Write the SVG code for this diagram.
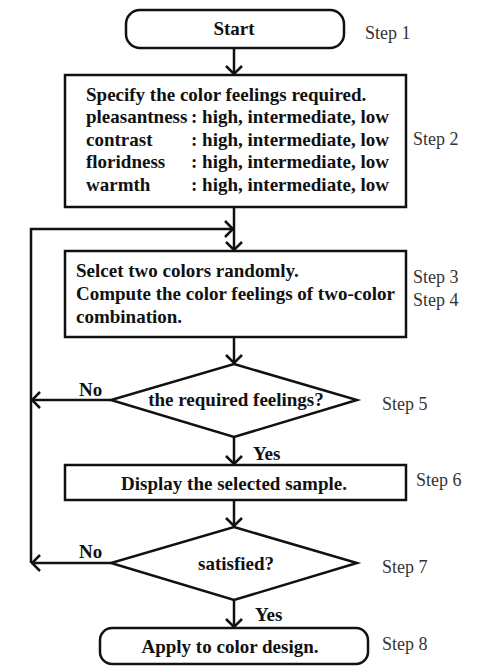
<svg xmlns="http://www.w3.org/2000/svg" width="503" height="666" viewBox="0 0 503 666">
<style>
.shape{fill:#fff;stroke:#111;stroke-width:2.5}
.t{font-family:'Liberation Serif','Times New Roman','DejaVu Serif',serif;font-weight:bold;font-size:19px;fill:#111}
.c{text-anchor:middle}
.step{font-family:'Liberation Serif','Times New Roman','DejaVu Serif',serif;font-size:18px;fill:#333}
.con{fill:none;stroke:#111;stroke-width:2.5}
</style>
<defs>
<marker id="ah" viewBox="0 0 10 18" refX="9" refY="9" markerWidth="10" markerHeight="18" markerUnits="userSpaceOnUse" orient="auto">
<path d="M1,1 L9,9 L1,17" fill="none" stroke="#111" stroke-width="2.5"/>
</marker>
</defs>
<rect width="503" height="666" fill="#fff"/>
<g id="connectors">
<path class="con" d="M234,48 V74" marker-end="url(#ah)"/>
<path class="con" d="M234,207 V250" marker-end="url(#ah)"/>
<path class="con" d="M31,563 V229 H233" marker-end="url(#ah)"/>
<path class="con" d="M234,337 V363" marker-end="url(#ah)"/>
<path class="con" d="M111,400 H32" marker-end="url(#ah)"/>
<path class="con" d="M234,437 V464" marker-end="url(#ah)"/>
<path class="con" d="M234,500 V526" marker-end="url(#ah)"/>
<path class="con" d="M111,563 H32" marker-end="url(#ah)"/>
<path class="con" d="M234,600 V627" marker-end="url(#ah)"/>
<text class="t" x="79" y="396">No</text>
<text class="t" x="79" y="558">No</text>
<text class="t" x="253" y="460">Yes</text>
<text class="t" x="255" y="621">Yes</text>
</g>
<g id="start">
<rect class="shape" x="126" y="10" width="218" height="38" rx="14"/>
<text class="t c" x="234" y="35">Start</text>
<text class="step" x="365" y="39">Step 1</text>
</g>
<g id="specify">
<rect class="shape" x="65" y="75" width="341" height="132"/>
<text class="t" x="86" y="101">Specify the color feelings required.</text>
<text class="t" x="86" y="123">pleasantness</text><text class="t" x="191" y="123">: high, intermediate, low</text>
<text class="t" x="86" y="146">contrast</text><text class="t" x="191" y="146">: high, intermediate, low</text>
<text class="t" x="86" y="168">floridness</text><text class="t" x="191" y="168">: high, intermediate, low</text>
<text class="t" x="86" y="191">warmth</text><text class="t" x="191" y="191">: high, intermediate, low</text>
<text class="step" x="413" y="145">Step 2</text>
</g>
<g id="select">
<rect class="shape" x="65" y="251" width="341" height="86"/>
<text class="t" x="76" y="277">Selcet two colors randomly.</text>
<text class="t" x="76" y="300">Compute the color feelings of two-color</text>
<text class="t" x="76" y="323">combination.</text>
<text class="step" x="413" y="283">Step 3</text>
<text class="step" x="413" y="306">Step 4</text>
</g>
<g id="decision1">
<polygon class="shape" points="234,364 357,400 234,437 111,400"/>
<text class="t c" x="236" y="406">the required feelings?</text>
<text class="step" x="382" y="410">Step 5</text>
</g>
<g id="display">
<rect class="shape" x="65" y="465" width="341" height="35"/>
<text class="t c" x="234" y="490">Display the selected sample.</text>
<text class="step" x="416" y="486">Step 6</text>
</g>
<g id="decision2">
<polygon class="shape" points="234,527 357,563 234,600 111,563"/>
<text class="t c" x="236" y="570">satisfied?</text>
<text class="step" x="382" y="573">Step 7</text>
</g>
<g id="apply">
<rect class="shape" x="100" y="628" width="268" height="36" rx="12"/>
<text class="t c" x="230" y="653">Apply to color design.</text>
<text class="step" x="382" y="650">Step 8</text>
</g>
</svg>
